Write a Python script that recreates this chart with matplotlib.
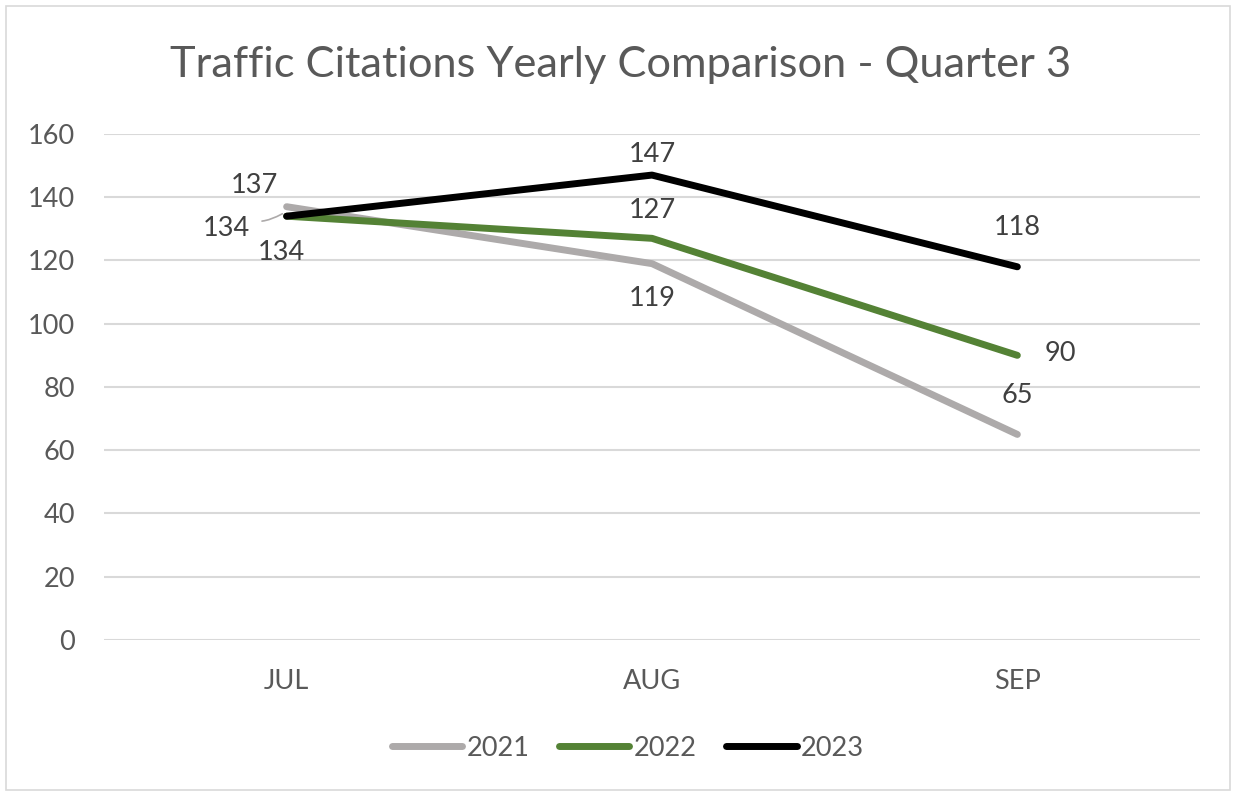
import matplotlib.pyplot as plt
from matplotlib.patches import Rectangle

# podaci
months = ['JUL', 'AUG', 'SEP']
y2021 = [137, 119, 65]
y2022 = [134, 127, 90]
y2023 = [134, 147, 118]
series = [('2021', y2021, '#ADAAAA'), ('2022', y2022, '#548235'), ('2023', y2023, '#000000')]

# pozicije oznaka (offset u tackama) za svaku tacku
offsets = {
    '2021': [(-23, 15), (0, -25), (0, 28)],
    '2022': [(-4, -26), (0, 20), (31, 1)],
    '2023': [(-43, -9), (0, 15), (0, 28)],
}

plt.rcParams['font.family'] = ['Lato', 'DejaVu Sans']
txt = '#595959'

fig = plt.figure(figsize=(12.36, 7.96), dpi=100)
ax = fig.add_axes([0.0841, 0.196, 0.8868, 0.6357])
fig.patches.append(Rectangle((6 / 1236, 6 / 796), 1224 / 1236, 784 / 796, transform=fig.transFigure,
                             fill=False, edgecolor='#D9D9D9', lw=1.2))

x = range(len(months))
for name, vals, col in series:
    ax.plot(x, vals, color=col, lw=5, solid_capstyle='round', label=name, zorder=3)

for name, vals, col in series:
    for i, v in enumerate(vals):
        dx, dy = offsets[name][i]
        ax.annotate(str(v), (i, v), xytext=(dx, dy), textcoords='offset points',
                    ha='center', va='center', fontsize=19.5, color='#404040', zorder=4)

# leader linija za 134 (2023, JUL)
ax.annotate('', xy=(-0.005, 135.2), xytext=(-0.075, 132.4),
            arrowprops=dict(arrowstyle='-', color='#ADAAAA', lw=1.2,
                            connectionstyle='angle3,angleA=0,angleB=30'))

ax.set_xlim(-0.5, 2.5)
ax.set_ylim(0, 160)
ax.set_yticks(range(0, 161, 20))
ax.set_xticks(list(x))
ax.set_xticklabels(months)
ax.grid(axis='y', color='#D9D9D9', lw=1.5)
ax.set_axisbelow(True)
for s in ax.spines.values():
    s.set_visible(False)
ax.tick_params(length=0, labelsize=19.5, labelcolor=txt)
ax.tick_params(axis='y', pad=21)
ax.tick_params(axis='x', pad=21)

fig.text(0.502, 0.918, 'Traffic Citations Yearly Comparison - Quarter 3', ha='center', va='center',
         fontsize=31.2, color=txt)

fig.legend(loc='center', bbox_to_anchor=(0.508, 0.06), ncol=3, frameon=False, fontsize=19.5,
           handlelength=2.6, handletextpad=0.15, columnspacing=1.1, labelcolor=txt)

plt.savefig('out.png', dpi=100)
